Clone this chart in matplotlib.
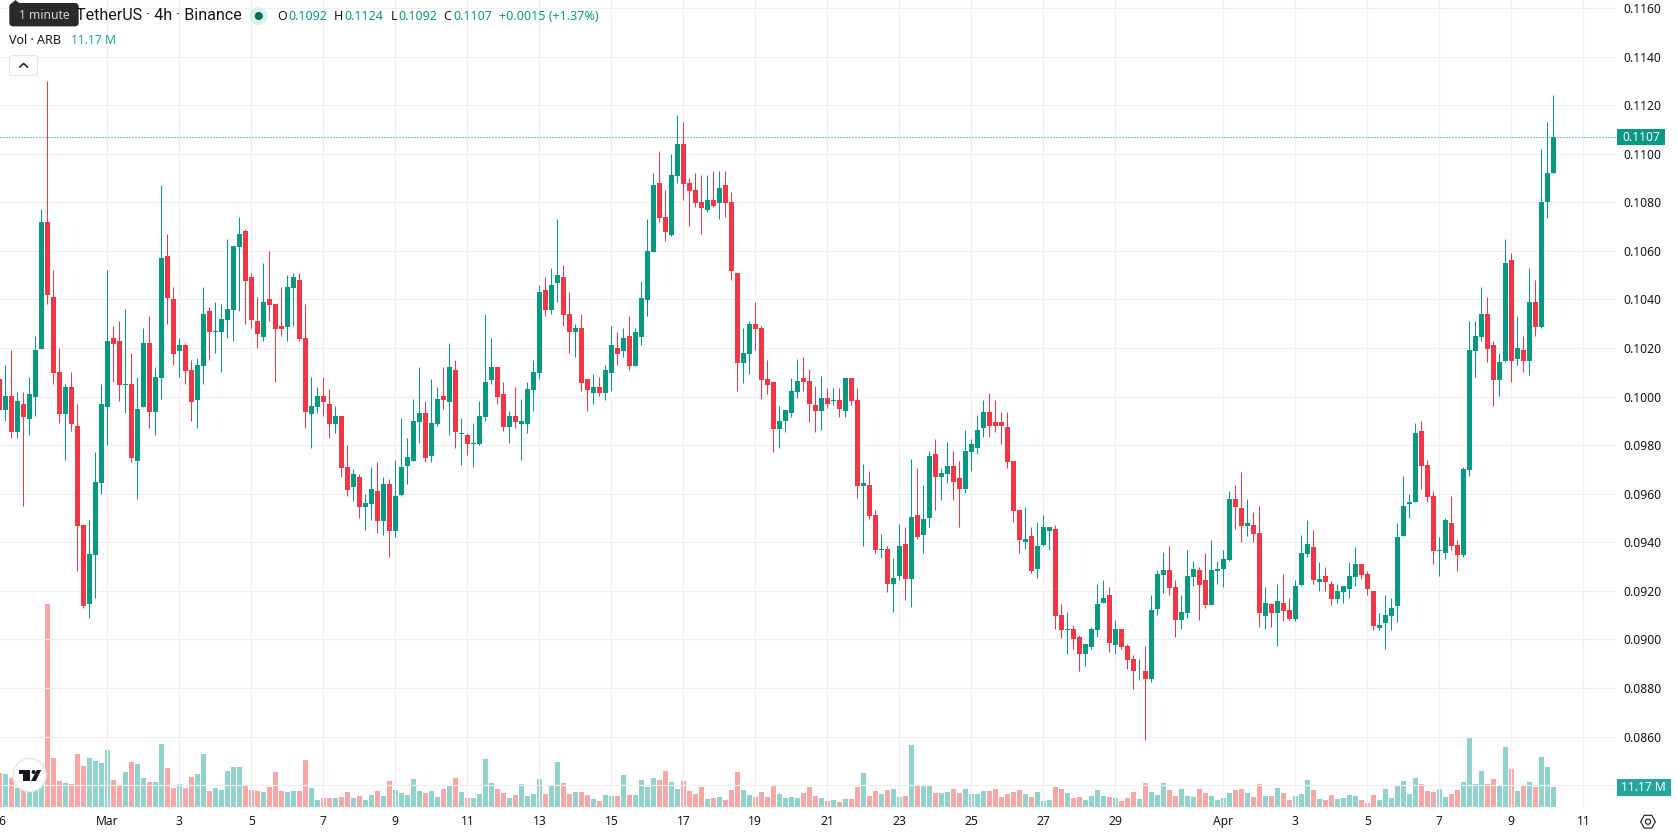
import matplotlib
matplotlib.use("Agg")
import matplotlib.pyplot as plt
import numpy as np
from matplotlib.patches import Circle, FancyBboxPatch, Polygon, Rectangle, RegularPolygon
from matplotlib.transforms import blended_transform_factory

# ARB/USDT 4h candles, prices in units of 0.00001
opens = [
    10073, 9945, 10002, 9854, 9970, 9908, 9998, 10196, 10718, 10410,
    10101, 9929, 10039, 9879, 9471, 9146, 9348, 9645, 9957, 10242,
    10229, 10048, 10052, 9735, 9957, 10221, 9936, 10077, 10579, 10402,
    10188, 10213, 10110, 9986, 10126, 10352, 10265, 10265, 10315, 10357,
    10615, 10682, 10492, 10311, 10245, 10402, 10381, 10290, 10286, 10447,
    10480, 10241, 9928, 9957, 10002, 9969, 9887, 9920, 9710, 9627,
    9669, 9545, 9557, 9611, 9487, 9640, 9446, 9594, 9714, 9734,
    9895, 9932, 9755, 9887, 10002, 9977, 10109, 9846, 9842, 9804,
    9804, 9916, 10068, 10122, 10010, 9875, 9920, 9887, 9887, 10029,
    10099, 10441, 10358, 10469, 10494, 10342, 10268, 10284, 10074, 10016,
    10041, 10016, 10099, 10202, 10189, 10251, 10128, 10247, 10399, 10597,
    10881, 10741, 10667, 10910, 11042, 10881, 10852, 10803, 10770, 10811,
    10799, 10873, 10803, 10511, 10140, 10177, 10301, 10284, 10074, 10062,
    9868, 9898, 9931, 10018, 10075, 10063, 9964, 9940, 9993, 9981,
    9985, 9940, 10075, 9985, 9631, 9635, 9511, 9367, 9371, 9227,
    9260, 9392, 9248, 9511, 9429, 9499, 9762, 9668, 9680, 9713,
    9664, 9618, 9771, 9787, 9870, 9935, 9894, 9894, 9874, 9734,
    9532, 9400, 9425, 9289, 9388, 9448, 9453, 9102, 9037, 9041,
    9012, 8938, 8967, 9037, 9148, 9181, 8979, 9041, 8971, 8921,
    8868, 8872, 8839, 9127, 9267, 9284, 9214, 9078, 9107, 9259,
    9284, 9243, 9140, 9280, 9288, 9329, 9580, 9543, 9469, 9473,
    9440, 9098, 9144, 9107, 9152, 9123, 9086, 9226, 9350, 9382,
    9237, 9262, 9229, 9168, 9196, 9209, 9258, 9311, 9270, 9201,
    9048, 9069, 9097, 9138, 9426, 9559, 9567, 9860, 9720, 9592,
    9365, 9356, 9480, 9390, 9349, 9699, 10189, 10246, 10340, 10213,
    10069, 10148, 10564, 10156, 10192, 10148, 10391, 10288, 10801, 10920,
]
highs = [
    10124, 10130, 10192, 10018, 10018, 10080, 10249, 10773, 11299, 10521,
    10201, 10052, 10101, 9970, 9471, 9492, 9771, 10052, 10521, 10290,
    10311, 10361, 10180, 10080, 10283, 10332, 10121, 10871, 10670, 10451,
    10242, 10221, 10151, 10160, 10451, 10368, 10389, 10382, 10649, 10620,
    10739, 10690, 10510, 10410, 10551, 10601, 10381, 10451, 10500, 10509,
    10509, 10381, 10080, 10039, 10080, 10031, 9961, 9920, 9800, 9702,
    9681, 9599, 9710, 9730, 9669, 9660, 9739, 9911, 9829, 9990,
    10122, 9982, 10072, 10039, 10122, 10220, 10150, 9911, 9850, 9891,
    9982, 10340, 10241, 10122, 10060, 9940, 10039, 9990, 10060, 10152,
    10461, 10494, 10531, 10733, 10543, 10432, 10301, 10342, 10074, 10091,
    10082, 10132, 10292, 10264, 10284, 10333, 10284, 10474, 10733, 10922,
    11013, 10852, 11001, 11161, 11132, 10902, 10922, 10914, 10914, 10931,
    10931, 10931, 10844, 10511, 10284, 10313, 10391, 10292, 10152, 10062,
    9963, 9944, 10075, 10154, 10162, 10112, 10042, 10084, 10034, 10034,
    10034, 10075, 10075, 10034, 9721, 9692, 9532, 9433, 9384, 9334,
    9474, 9462, 9742, 9705, 9635, 9775, 9824, 9705, 9812, 9775,
    9734, 9861, 9824, 9923, 9985, 10014, 9985, 9935, 9935, 9734,
    9532, 9544, 9462, 9482, 9511, 9461, 9473, 9144, 9111, 9061,
    9020, 8983, 9053, 9230, 9243, 9214, 9082, 9041, 8983, 8934,
    8921, 8971, 9181, 9284, 9362, 9383, 9243, 9181, 9370, 9321,
    9300, 9354, 9411, 9321, 9370, 9613, 9634, 9691, 9580, 9523,
    9551, 9214, 9152, 9230, 9271, 9172, 9243, 9432, 9493, 9452,
    9319, 9299, 9242, 9229, 9222, 9319, 9382, 9311, 9283, 9201,
    9110, 9181, 9171, 9480, 9671, 9600, 9893, 9901, 9740, 9612,
    9423, 9501, 9592, 9411, 9712, 10312, 10312, 10452, 10411, 10230,
    10181, 10649, 10593, 10333, 10251, 10531, 10481, 11021, 11132, 11240,
]
lows = [
    9896, 9899, 9830, 9830, 9549, 9842, 9920, 10196, 10382, 10052,
    9892, 9739, 9858, 9282, 9130, 9089, 9171, 9599, 9801, 10060,
    9982, 9933, 9730, 9579, 9957, 9871, 9842, 9990, 10299, 10130,
    10080, 10052, 9899, 9871, 10052, 10151, 10180, 10101, 10242, 10229,
    10352, 10299, 10283, 10201, 10229, 10311, 10061, 10249, 10229, 10290,
    10229, 9870, 9788, 9932, 9920, 9829, 9850, 9669, 9590, 9570,
    9500, 9450, 9491, 9438, 9430, 9339, 9421, 9590, 9640, 9734,
    9809, 9730, 9730, 9879, 9949, 9842, 9788, 9718, 9759, 9710,
    9800, 9899, 10052, 9969, 9858, 9809, 9870, 9739, 9850, 9942,
    10074, 10333, 10342, 10391, 10292, 10181, 10161, 10021, 9942, 9971,
    10004, 9984, 10021, 10132, 10161, 10111, 10128, 10214, 10333, 10597,
    10721, 10642, 10663, 10881, 10811, 10704, 10782, 10671, 10762, 10782,
    10733, 10741, 10482, 10021, 10054, 10091, 10193, 9992, 10012, 9773,
    9790, 9853, 9915, 9993, 10022, 9894, 9853, 9861, 9952, 9964,
    9915, 9915, 9964, 9581, 9384, 9495, 9355, 9334, 9194, 9112,
    9244, 9161, 9132, 9412, 9355, 9462, 9532, 9573, 9643, 9573,
    9462, 9602, 9692, 9762, 9832, 9832, 9853, 9804, 9705, 9482,
    9355, 9371, 9272, 9252, 9384, 9370, 9041, 9004, 8942, 8962,
    8872, 8892, 8962, 9012, 9148, 8950, 8942, 8962, 8880, 8794,
    8831, 8584, 8823, 9102, 9193, 9181, 9012, 9041, 9090, 9222,
    9082, 9131, 9140, 9230, 9214, 9321, 9453, 9403, 9424, 9403,
    9053, 9041, 9053, 8971, 9074, 9082, 9074, 9222, 9341, 9229,
    9201, 9201, 9143, 9151, 9151, 9171, 9222, 9250, 9181, 9040,
    9040, 8962, 9040, 9073, 9426, 9501, 9567, 9620, 9564, 9311,
    9262, 9333, 9370, 9283, 9340, 9671, 10082, 10230, 10144, 9962,
    10003, 10144, 10062, 10131, 10102, 10090, 10251, 10284, 10735, 10920,
]
closes = [
    9945, 10002, 9854, 9982, 9915, 10011, 10192, 10718, 10418, 10098,
    9929, 10039, 9887, 9467, 9137, 9352, 9648, 9970, 10229, 10217,
    10048, 10051, 9748, 9949, 10221, 9936, 10080, 10571, 10407, 10176,
    10213, 10105, 9977, 10130, 10340, 10265, 10270, 10320, 10361, 10620,
    10670, 10476, 10315, 10258, 10389, 10377, 10278, 10278, 10451, 10492,
    10237, 9936, 9961, 10002, 9977, 9887, 9920, 9706, 9615, 9681,
    9545, 9561, 9619, 9487, 9640, 9446, 9590, 9710, 9751, 9899,
    9932, 9747, 9891, 9990, 9986, 10122, 9854, 9850, 9804, 9809,
    9920, 10060, 10122, 9998, 9875, 9920, 9895, 9899, 10031, 10103,
    10432, 10358, 10461, 10502, 10338, 10268, 10284, 10058, 10029, 10041,
    10016, 10111, 10214, 10177, 10243, 10128, 10264, 10404, 10601, 10873,
    10737, 10679, 10914, 11042, 10877, 10848, 10799, 10778, 10811, 10786,
    10861, 10799, 10519, 10140, 10181, 10301, 10280, 10070, 10049, 9868,
    9901, 9944, 10022, 10063, 10059, 9968, 9940, 9993, 9968, 9985,
    9948, 10075, 9981, 9631, 9643, 9507, 9367, 9371, 9227, 9252,
    9384, 9248, 9503, 9421, 9495, 9754, 9668, 9684, 9713, 9647,
    9618, 9775, 9804, 9861, 9935, 9878, 9878, 9878, 9730, 9528,
    9408, 9412, 9281, 9384, 9462, 9461, 9098, 9037, 9041, 9000,
    8938, 8983, 9041, 9144, 9172, 8987, 9041, 8967, 8917, 8868,
    8872, 8839, 9123, 9271, 9284, 9210, 9078, 9111, 9263, 9292,
    9226, 9140, 9284, 9292, 9333, 9580, 9547, 9469, 9481, 9436,
    9107, 9152, 9107, 9160, 9119, 9086, 9222, 9354, 9391, 9245,
    9250, 9237, 9168, 9201, 9222, 9262, 9311, 9266, 9209, 9056,
    9061, 9102, 9130, 9423, 9551, 9564, 9850, 9715, 9587, 9365,
    9370, 9493, 9385, 9349, 9702, 10192, 10251, 10340, 10197, 10069,
    10144, 10552, 10148, 10202, 10148, 10391, 10288, 10801, 10922, 11070,
]
# volume in millions
volumes = [
    19.0, 18.4, 16.2, 10.4, 10.4, 11.4, 12.3, 23.5, 113.4, 27.4,
    14.5, 13.4, 12.8, 29.6, 22.9, 27.4, 25.7, 24.6, 31.8, 15.1,
    11.7, 19.5, 25.1, 24.0, 16.2, 14.0, 14.0, 35.2, 21.8, 10.6,
    12.8, 10.6, 16.8, 18.4, 29.6, 8.9, 10.6, 9.5, 20.1, 22.3,
    22.3, 12.3, 9.5, 8.9, 8.4, 11.2, 19.5, 8.9, 8.4, 8.9,
    8.9, 26.2, 10.6, 3.9, 5.0, 5.0, 5.0, 5.6, 8.4, 5.0,
    6.1, 3.9, 6.7, 8.9, 6.1, 14.5, 9.5, 7.8, 6.7, 15.6,
    8.9, 7.8, 8.9, 5.6, 10.1, 12.3, 16.2, 8.4, 5.0, 5.0,
    7.3, 26.8, 13.4, 10.1, 7.8, 5.0, 6.7, 12.8, 6.1, 7.3,
    15.6, 7.3, 12.3, 25.1, 13.4, 7.3, 8.4, 8.4, 6.7, 4.5,
    3.4, 6.7, 6.1, 6.1, 17.9, 6.7, 6.7, 15.1, 11.2, 16.2,
    15.1, 20.1, 14.0, 10.1, 14.5, 8.9, 7.3, 11.2, 4.5, 5.0,
    5.6, 3.9, 9.5, 19.5, 9.5, 6.7, 5.6, 8.4, 5.6, 12.3,
    7.3, 5.0, 5.6, 5.0, 7.8, 11.2, 6.1, 5.0, 3.4, 3.9,
    2.8, 4.5, 4.5, 11.2, 19.0, 6.1, 8.9, 7.3, 9.5, 10.1,
    5.6, 6.1, 34.6, 12.3, 11.7, 11.7, 7.8, 7.8, 8.4, 10.1,
    7.8, 10.1, 7.3, 7.3, 8.9, 8.9, 10.1, 5.6, 7.3, 8.4,
    9.5, 7.3, 5.6, 8.4, 3.4, 3.9, 11.2, 10.1, 7.8, 5.0,
    5.6, 3.9, 6.1, 9.5, 6.1, 5.6, 5.0, 3.4, 5.0, 8.4,
    4.5, 13.4, 8.4, 6.7, 13.4, 9.5, 6.1, 10.1, 6.1, 5.6,
    10.1, 7.8, 6.1, 3.9, 5.0, 7.8, 9.5, 10.1, 7.8, 5.6,
    12.8, 6.1, 6.1, 10.6, 7.8, 3.9, 6.1, 7.3, 15.1, 9.5,
    4.5, 3.9, 6.7, 4.5, 5.0, 6.7, 6.1, 3.9, 2.2, 6.7,
    3.9, 10.1, 5.0, 12.3, 14.5, 7.3, 16.2, 12.8, 8.9, 8.4,
    10.1, 5.6, 7.3, 9.5, 14.0, 39.1, 12.8, 20.1, 12.8, 15.6,
    12.3, 33.5, 21.2, 8.9, 12.3, 14.0, 11.2, 27.9, 22.3, 11.17,
]

date_labels = ["26", "Mar", "3", "5", "7", "9", "11", "13", "15", "17", "19", "21",
               "23", "25", "27", "29", "Apr", "3", "5", "7", "9", "11"]
date_index = [0, 18, 30, 42, 54, 66, 78, 90, 102, 114, 126, 138,
              150, 162, 174, 186, 204, 216, 228, 240, 252, 264]
price_ticks = [0.084, 0.086, 0.088, 0.090, 0.092, 0.094, 0.096, 0.098, 0.100, 0.102,
               0.104, 0.106, 0.108, 0.110, 0.112, 0.114, 0.116]

UP = "#089981"
DOWN = "#f23645"
VOL_UP = "#26a69a"
VOL_DOWN = "#ef5350"
TEXT = "#131722"
GRID = "#f0f0f2"

W, H = 1678, 835
PANE_W, PANE_H = 1616, 808

plt.rcParams["font.family"] = ["Noto Sans", "DejaVu Sans"]

o = np.array(opens) / 1e5
h = np.array(highs) / 1e5
l = np.array(lows) / 1e5
c = np.array(closes) / 1e5
v = np.array(volumes)
x = np.arange(len(o))
up = c >= o

fig = plt.figure(figsize=(W / 100, H / 100), dpi=100, facecolor="white")
pos = [0, 1 - PANE_H / H, PANE_W / W, PANE_H / H]

# volume pane sits under the candles and shares the x range
ax_vol = fig.add_axes(pos, zorder=1)
ax = fig.add_axes(pos, zorder=2)
ax.patch.set_visible(False)

xlim = (0.1117, 269.44)
for a in (ax, ax_vol):
    a.set_xlim(*xlim)
    for s in a.spines.values():
        s.set_visible(False)

ax_vol.set_ylim(-0.56, 450.7)
ax_vol.axis("off")
ax_vol.bar(x[up], v[up], width=5 / 6, color=VOL_UP, alpha=0.5, linewidth=0)
ax_vol.bar(x[~up], v[~up], width=5 / 6, color=VOL_DOWN, alpha=0.5, linewidth=0)

ax.set_ylim(0.083058, 0.116332)
ax.set_axisbelow(True)
ax.grid(True, color=GRID, linewidth=0.9)

ax.yaxis.tick_right()
ax.set_yticks(price_ticks)
ax.set_yticklabels(["" if t < 0.085 else f"{t:.4f}" for t in price_ticks])
ax.tick_params(axis="y", length=0, pad=5.6, labelsize=8.7, labelcolor=TEXT)

ax.set_xticks([i for i in date_index if i > xlim[0]])
ax.tick_params(axis="x", length=0, labelbottom=False)

# date labels, the first one runs off the left edge
trans = blended_transform_factory(ax.transData, fig.transFigure)
for i, lab in zip(date_index, date_labels):
    bold = lab in ("Mar", "Apr")
    ax.text(i, 1 - 821.5 / H, lab, transform=trans, ha="center", va="center", fontsize=8.7,
            color=TEXT, fontweight="bold" if bold else "normal", clip_on=False)

# candles
ax.vlines(x[up], l[up], h[up], color=UP, linewidth=0.72, snap=True)
ax.vlines(x[~up], l[~up], h[~up], color=DOWN, linewidth=0.72, snap=True)
ax.bar(x[up], (c - o)[up], bottom=o[up], width=5 / 6, color=UP, linewidth=0, zorder=3)
ax.bar(x[~up], (o - c)[~up], bottom=c[~up], width=5 / 6, color=DOWN, linewidth=0, zorder=3)

# last price line
ax.axhline(c[-1], color=UP, linewidth=0.72, linestyle=(0, (1, 2)), zorder=4, snap=True)

# header, tags and logo in pixel coordinates
ui = fig.add_axes([0, 0, 1, 1], zorder=5)
ui.set_xlim(0, W)
ui.set_ylim(H, 0)
ui.axis("off")

ui.text(241.6, 16, "TetherUS · 4h · Binance", ha="right", va="center", fontsize=11.6,
        color=TEXT, family=["Roboto", "DejaVu Sans"])

ui.add_patch(Polygon([(12, 3), (15.5, 0), (19, 3)], color="#2a2a2c", linewidth=0))
ui.add_patch(FancyBboxPatch((10, 3.7), 68, 22, boxstyle="round,pad=0,rounding_size=3",
                            facecolor="#2a2a2c", edgecolor="#2a2a2c", linewidth=1))
ui.text(44, 15.5, "1 minute", ha="center", va="center", fontsize=8.7, color="#d6d6d8")

ui.add_patch(Circle((258.8, 16), 9, facecolor="#dcefec", linewidth=0))
ui.add_patch(Circle((258.8, 16), 4, facecolor="#0a6b5c", linewidth=0))

ohlc_x = [(277, "O", 288, "0.1092"), (334, "H", 344, "0.1124"),
          (390.6, "L", 398, "0.1092"), (443.7, "C", 453, "0.1107")]
for x0, letter, x1, val in ohlc_x:
    ui.text(x0, 16, letter, ha="left", va="center", fontsize=9, color=TEXT)
    ui.text(x1, 16, val, ha="left", va="center", fontsize=9, color=UP)
ui.text(498.8, 16, "+0.0015 (+1.37%)", ha="left", va="center", fontsize=9.05, color=UP)

ui.text(9, 40.5, "Vol · ARB", ha="left", va="center", fontsize=9, color=TEXT)
ui.text(71.4, 40.5, "11.17 M", ha="left", va="center", fontsize=8.8, color=VOL_UP)

ui.add_patch(FancyBboxPatch((9.5, 55.5), 28, 20, boxstyle="round,pad=0,rounding_size=3",
                            facecolor="white", edgecolor="#e0e3eb", linewidth=0.8))
ui.plot([19.8, 23.6, 27.4], [67, 63.5, 67], color=TEXT, linewidth=1.1)

ui.add_patch(Rectangle((1617, 129.3), 48, 16, facecolor=UP, linewidth=0))
ui.text(1641, 137.3, f"{c[-1]:.4f}", ha="center", va="center", fontsize=8.7, color="white")
ui.add_patch(Rectangle((1617, 779), 53.5, 16.7, facecolor=VOL_UP, linewidth=0))
ui.text(1643.7, 787.3, "11.17 M", ha="center", va="center", fontsize=8.7, color="white")

# logo badge
ui.add_patch(Circle((29.6, 775), 16.5, facecolor="white", edgecolor="#e8e8ea", linewidth=1.2))
ui.add_patch(Polygon([(19, 770), (30.4, 770), (30.4, 781), (23.4, 781), (23.4, 774), (19, 774)],
                     facecolor="#131722", linewidth=0))
ui.add_patch(Circle((33.6, 772), 2, facecolor="#131722", linewidth=0))
ui.add_patch(Polygon([(36.8, 770), (41.2, 770), (35.8, 781), (31, 781)], facecolor="#131722", linewidth=0))

# settings icon
ui.add_patch(RegularPolygon((1648, 821.7), 6, radius=7.4, orientation=np.pi / 6,
                            facecolor="none", edgecolor=TEXT, linewidth=0.8))
ui.add_patch(Circle((1648, 821.7), 2.6, facecolor="none", edgecolor=TEXT, linewidth=0.8))

fig.savefig("out.png", dpi=100, facecolor="white")
